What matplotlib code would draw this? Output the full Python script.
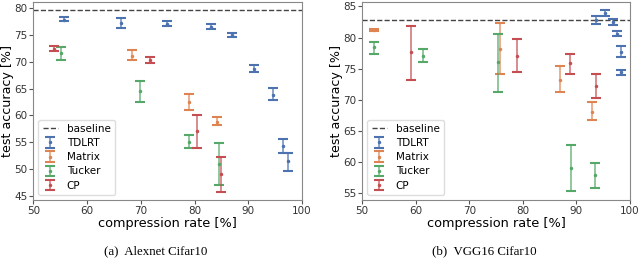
import matplotlib.pyplot as plt

colors = {"TDLRT": "#4C72B0", "Matrix": "#DD8452", "Tucker": "#55A868", "CP": "#C44E52"}

# (a) Alexnet Cifar10: compression rate, mean, lower, upper
alex = {
    "TDLRT": ([55.8, 66.4, 74.8, 83.1, 87.0, 91.0, 94.6, 96.4, 97.3],
              [77.9, 77.3, 77.1, 76.6, 75.0, 68.7, 63.9, 54.3, 51.4],
              [77.6, 76.4, 76.7, 76.1, 74.6, 68.2, 62.9, 52.9, 49.7],
              [78.4, 78.25, 77.6, 77.1, 75.4, 69.4, 65.05, 55.6, 53.05]),
    "Matrix": ([68.3, 78.9, 84.2],
               [71.2, 62.5, 58.8],
               [70.4, 61.1, 58.25],
               [72.2, 64.0, 59.8]),
    "Tucker": ([55.2, 69.9, 78.9, 84.6],
               [71.7, 64.6, 55.1, 51.0],
               [70.4, 62.6, 53.9, 47.0],
               [72.75, 66.5, 56.4, 54.8]),
    "CP": ([53.8, 71.7, 80.5, 84.9],
           [72.4, 70.3, 57.0, 49.0],
           [72.1, 69.8, 53.9, 45.7],
           [72.9, 70.9, 60.1, 52.2]),
}
alex_baseline = 79.7

# (b) VGG16 Cifar10
vgg = {
    "TDLRT": ([93.6, 95.4, 96.9, 97.7, 98.3, 98.4],
              [82.8, 83.9, 82.5, 80.6, 77.7, 74.4],
              [82.2, 83.4, 82.0, 80.3, 76.8, 74.0],
              [83.4, 84.45, 82.95, 81.0, 78.6, 74.8]),
    "Matrix": ([52.2, 75.8, 87.0, 93.0],
               [81.2, 78.2, 73.2, 68.0],
               [80.97, 74.2, 71.2, 66.7],
               [81.45, 82.3, 75.5, 69.7]),
    "Tucker": ([52.2, 61.4, 75.4, 89.1, 93.5],
               [78.4, 77.1, 76.0, 59.0, 57.9],
               [77.4, 76.1, 71.2, 55.3, 55.9],
               [79.35, 78.1, 80.6, 62.8, 59.8]),
    "CP": ([59.1, 78.9, 88.8, 93.7],
           [77.6, 77.0, 75.9, 72.2],
           [73.2, 74.4, 74.2, 70.3],
           [81.9, 79.8, 77.4, 74.1]),
}
vgg_baseline = 82.8

fig = plt.figure(figsize=(6.4, 2.58), dpi=100)
ax1 = fig.add_axes([0.052, 0.225, 0.42, 0.767])
ax2 = fig.add_axes([0.566, 0.225, 0.418, 0.767])


def draw(ax, data, baseline, ylim, yticks):
    ax.axhline(baseline, color="#444444", linestyle="--", linewidth=1, label="baseline")
    for name, (x, m, lo, hi) in data.items():
        err = [[mi - l for mi, l in zip(m, lo)], [h - mi for mi, h in zip(m, hi)]]
        cont = ax.errorbar(x, m, yerr=err, fmt=".", color=colors[name], markersize=3,
                           elinewidth=1.4, capsize=3.6, capthick=1.5, label=name)
        for b in cont[2]:
            b.set_alpha(0.65)
    ax.set_xlim(50, 100)
    ax.set_ylim(*ylim)
    ax.set_yticks(yticks)
    ax.set_xlabel("compression rate [%]", fontsize=9.3, labelpad=1)
    ax.set_ylabel("test accuracy [%]", fontsize=9.1, labelpad=0)
    ax.tick_params(labelsize=7.5, length=3, pad=1.2, color="#555555", labelcolor="#333333")
    for s in ax.spines.values():
        s.set_color("#888888")
    ax.legend(loc="lower left", fontsize=7.5, handlelength=1.5, borderpad=0.4,
              labelspacing=0.4, framealpha=1, edgecolor="#dddddd")


draw(ax1, alex, alex_baseline, (44.2, 81.2), [45, 50, 55, 60, 65, 70, 75, 80])
draw(ax2, vgg, vgg_baseline, (53.9, 85.7), [55, 60, 65, 70, 75, 80, 85])

fig.text(0.244, 0.027, "(a)  Alexnet Cifar10", ha="center", va="center",
         family="Liberation Serif", fontsize=9.3)
fig.text(0.756, 0.027, "(b)  VGG16 Cifar10", ha="center", va="center",
         family="Liberation Serif", fontsize=9.3)

fig.savefig("out.png", dpi=100)
